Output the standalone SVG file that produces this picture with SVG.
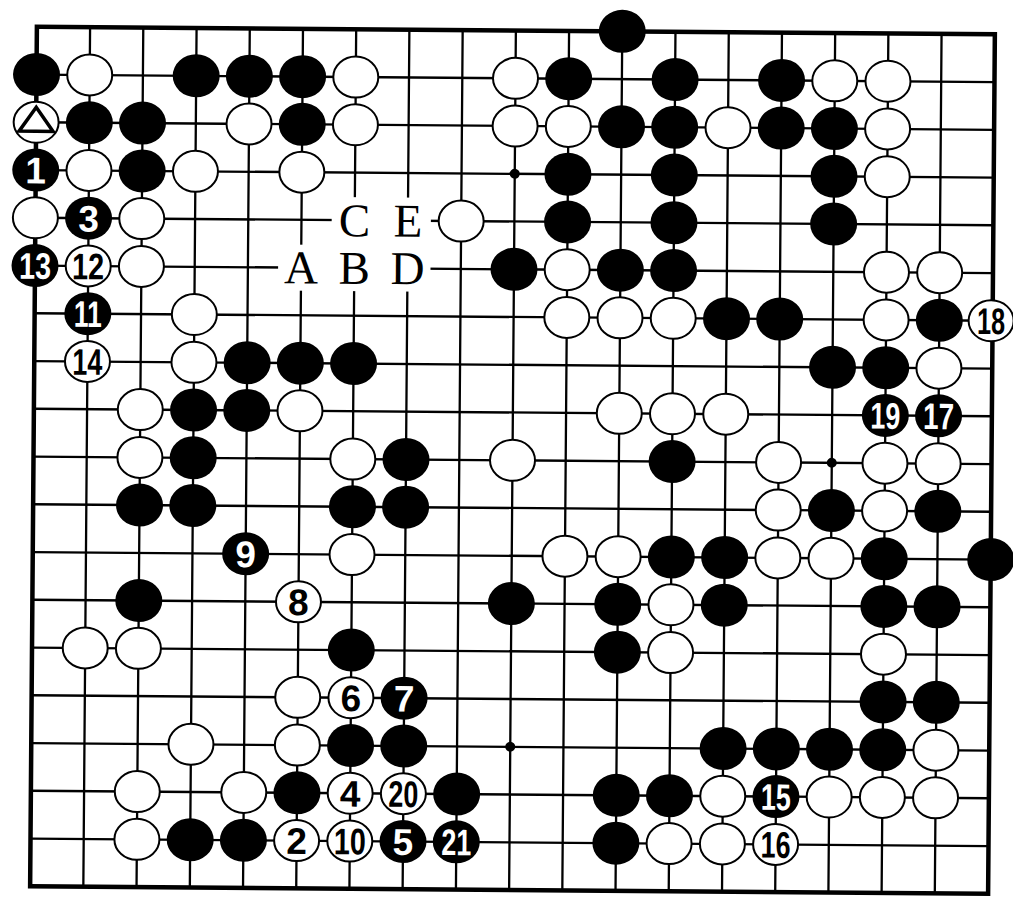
<svg xmlns="http://www.w3.org/2000/svg" xmlns:xlink="http://www.w3.org/1999/xlink" width="1013" height="899" viewBox="0 0 1013 899">
<style>
.gl{fill:none;stroke:#000;stroke-width:2.3}
.edge{fill:none;stroke:#000;stroke-width:4.5}
.nb{font-family:"Liberation Sans",Arial,sans-serif;font-weight:bold;font-size:37px;fill:#fff;text-anchor:middle}
.nw{font-family:"Liberation Sans",Arial,sans-serif;font-weight:bold;font-size:37px;fill:#000;text-anchor:middle}
.lt{font-family:"Liberation Serif","Times New Roman",serif;font-size:47px;fill:#000;text-anchor:middle}
</style>
<defs>
<ellipse id="bk" rx="23.5" ry="21.5" fill="#000"/>
<ellipse id="wt" rx="22.5" ry="20.5" fill="#fff" stroke="#000" stroke-width="2"/>
</defs>
<rect width="1013" height="899" fill="#fff"/>
<g transform="rotate(0.45 512 460)">
<g id="grid">
<path class="gl" d="M33.5 78.3H991.5M33.5 126H991.5M33.5 173.8H991.5M33.5 221.5H991.5M33.5 269.3H991.5M33.5 317H991.5M33.5 364.8H991.5M33.5 412.5H991.5M33.5 460.3H991.5M33.5 508H991.5M33.5 555.8H991.5M33.5 603.5H991.5M33.5 651.3H991.5M33.5 699H991.5M33.5 746.8H991.5M33.5 794.5H991.5M33.5 842.3H991.5"/>
<path class="gl" d="M86.7 30.5V890M139.9 30.5V890M193.2 30.5V890M246.4 30.5V890M299.6 30.5V890M352.8 30.5V890M406 30.5V890M459.3 30.5V890M512.5 30.5V890M565.7 30.5V890M618.9 30.5V890M672.1 30.5V890M725.4 30.5V890M778.6 30.5V890M831.8 30.5V890M885 30.5V890M938.2 30.5V890"/>
<rect class="edge" x="33.5" y="30.5" width="958" height="859.5"/>
<circle cx="512.5" cy="173.8" r="5"/>
<circle cx="831.8" cy="460.3" r="5"/>
<circle cx="512.5" cy="746.8" r="5"/>
</g>
<g id="black-stones">
<use href="#bk" x="618.9" y="30.5"/>
<use href="#bk" x="33.5" y="78.3"/><use href="#bk" x="193.2" y="78.3"/><use href="#bk" x="246.4" y="78.3"/><use href="#bk" x="299.6" y="78.3"/><use href="#bk" x="565.7" y="78.3"/><use href="#bk" x="672.1" y="78.3"/><use href="#bk" x="778.6" y="78.3"/>
<use href="#bk" x="86.7" y="126"/><use href="#bk" x="139.9" y="126"/><use href="#bk" x="299.6" y="126"/><use href="#bk" x="618.9" y="126"/><use href="#bk" x="672.1" y="126"/><use href="#bk" x="778.6" y="126"/><use href="#bk" x="831.8" y="126"/>
<use href="#bk" x="139.9" y="173.8"/><use href="#bk" x="565.7" y="173.8"/><use href="#bk" x="672.1" y="173.8"/><use href="#bk" x="831.8" y="173.8"/>
<use href="#bk" x="565.7" y="221.5"/><use href="#bk" x="672.1" y="221.5"/><use href="#bk" x="831.8" y="221.5"/>
<use href="#bk" x="512.5" y="269.3"/><use href="#bk" x="618.9" y="269.3"/><use href="#bk" x="672.1" y="269.3"/>
<use href="#bk" x="725.4" y="317"/><use href="#bk" x="778.6" y="317"/><use href="#bk" x="938.2" y="317"/>
<use href="#bk" x="246.4" y="364.8"/><use href="#bk" x="299.6" y="364.8"/><use href="#bk" x="352.8" y="364.8"/><use href="#bk" x="831.8" y="364.8"/><use href="#bk" x="885" y="364.8"/>
<use href="#bk" x="193.2" y="412.5"/><use href="#bk" x="246.4" y="412.5"/>
<use href="#bk" x="193.2" y="460.3"/><use href="#bk" x="406" y="460.3"/><use href="#bk" x="672.1" y="460.3"/>
<use href="#bk" x="139.9" y="508"/><use href="#bk" x="193.2" y="508"/><use href="#bk" x="352.8" y="508"/><use href="#bk" x="406" y="508"/><use href="#bk" x="831.8" y="508"/><use href="#bk" x="938.2" y="508"/>
<use href="#bk" x="672.1" y="555.8"/><use href="#bk" x="725.4" y="555.8"/><use href="#bk" x="885" y="555.8"/><use href="#bk" x="991.5" y="555.8"/>
<use href="#bk" x="139.9" y="603.5"/><use href="#bk" x="512.5" y="603.5"/><use href="#bk" x="618.9" y="603.5"/><use href="#bk" x="725.4" y="603.5"/><use href="#bk" x="885" y="603.5"/><use href="#bk" x="938.2" y="603.5"/>
<use href="#bk" x="352.8" y="651.3"/><use href="#bk" x="618.9" y="651.3"/>
<use href="#bk" x="885" y="699"/><use href="#bk" x="938.2" y="699"/>
<use href="#bk" x="352.8" y="746.8"/><use href="#bk" x="406" y="746.8"/><use href="#bk" x="725.4" y="746.8"/><use href="#bk" x="778.6" y="746.8"/><use href="#bk" x="831.8" y="746.8"/><use href="#bk" x="885" y="746.8"/>
<use href="#bk" x="299.6" y="794.5"/><use href="#bk" x="459.3" y="794.5"/><use href="#bk" x="618.9" y="794.5"/><use href="#bk" x="672.1" y="794.5"/>
<use href="#bk" x="193.2" y="842.3"/><use href="#bk" x="246.4" y="842.3"/><use href="#bk" x="618.9" y="842.3"/>
</g>
<g id="white-stones">
<use href="#wt" x="86.7" y="78.3"/><use href="#wt" x="352.8" y="78.3"/><use href="#wt" x="512.5" y="78.3"/><use href="#wt" x="831.8" y="78.3"/><use href="#wt" x="885" y="78.3"/>
<use href="#wt" x="246.4" y="126"/><use href="#wt" x="352.8" y="126"/><use href="#wt" x="512.5" y="126"/><use href="#wt" x="565.7" y="126"/><use href="#wt" x="725.4" y="126"/><use href="#wt" x="885" y="126"/>
<use href="#wt" x="86.7" y="173.8"/><use href="#wt" x="193.2" y="173.8"/><use href="#wt" x="299.6" y="173.8"/><use href="#wt" x="885" y="173.8"/>
<use href="#wt" x="33.5" y="221.5"/><use href="#wt" x="139.9" y="221.5"/><use href="#wt" x="459.3" y="221.5"/>
<use href="#wt" x="139.9" y="269.3"/><use href="#wt" x="565.7" y="269.3"/><use href="#wt" x="885" y="269.3"/><use href="#wt" x="938.2" y="269.3"/>
<use href="#wt" x="193.2" y="317"/><use href="#wt" x="565.7" y="317"/><use href="#wt" x="618.9" y="317"/><use href="#wt" x="672.1" y="317"/><use href="#wt" x="885" y="317"/>
<use href="#wt" x="193.2" y="364.8"/><use href="#wt" x="938.2" y="364.8"/>
<use href="#wt" x="139.9" y="412.5"/><use href="#wt" x="299.6" y="412.5"/><use href="#wt" x="618.9" y="412.5"/><use href="#wt" x="672.1" y="412.5"/><use href="#wt" x="725.4" y="412.5"/>
<use href="#wt" x="139.9" y="460.3"/><use href="#wt" x="352.8" y="460.3"/><use href="#wt" x="512.5" y="460.3"/><use href="#wt" x="778.6" y="460.3"/><use href="#wt" x="885" y="460.3"/><use href="#wt" x="938.2" y="460.3"/>
<use href="#wt" x="778.6" y="508"/><use href="#wt" x="885" y="508"/>
<use href="#wt" x="352.8" y="555.8"/><use href="#wt" x="565.7" y="555.8"/><use href="#wt" x="618.9" y="555.8"/><use href="#wt" x="778.6" y="555.8"/><use href="#wt" x="831.8" y="555.8"/>
<use href="#wt" x="672.1" y="603.5"/>
<use href="#wt" x="86.7" y="651.3"/><use href="#wt" x="139.9" y="651.3"/><use href="#wt" x="672.1" y="651.3"/><use href="#wt" x="885" y="651.3"/>
<use href="#wt" x="299.6" y="699"/>
<use href="#wt" x="193.2" y="746.8"/><use href="#wt" x="299.6" y="746.8"/><use href="#wt" x="938.2" y="746.8"/>
<use href="#wt" x="139.9" y="794.5"/><use href="#wt" x="246.4" y="794.5"/><use href="#wt" x="725.4" y="794.5"/><use href="#wt" x="831.8" y="794.5"/><use href="#wt" x="885" y="794.5"/><use href="#wt" x="938.2" y="794.5"/>
<use href="#wt" x="139.9" y="842.3"/><use href="#wt" x="672.1" y="842.3"/><use href="#wt" x="725.4" y="842.3"/>
</g>
<g id="marked-stone">
<use href="#wt" x="33.5" y="126"/>
<polygon points="33.5,111 16.5,135 50.5,135" fill="none" stroke="#000" stroke-width="3.5"/>
</g>
<g id="black-moves">
<g id="move-1"><use href="#bk" x="33.5" y="173.8"/><text class="nb" x="33.5" y="187.1">1</text></g>
<g id="move-3"><use href="#bk" x="86.7" y="221.5"/><text class="nb" x="86.7" y="234.8">3</text></g>
<g id="move-5"><use href="#bk" x="406" y="842.3"/><text class="nb" x="406" y="855.6">5</text></g>
<g id="move-7"><use href="#bk" x="406" y="699"/><text class="nb" x="406" y="712.3">7</text></g>
<g id="move-9"><use href="#bk" x="246.4" y="555.8"/><text class="nb" x="246.4" y="569.1">9</text></g>
<g id="move-11"><use href="#bk" x="86.7" y="317"/><text class="nb" x="86.7" y="330.3" textLength="28" lengthAdjust="spacingAndGlyphs">11</text></g>
<g id="move-13"><use href="#bk" x="33.5" y="269.3"/><text class="nb" x="33.5" y="282.6" textLength="32" lengthAdjust="spacingAndGlyphs">13</text></g>
<g id="move-15"><use href="#bk" x="778.6" y="794.5"/><text class="nb" x="778.6" y="807.8" textLength="30" lengthAdjust="spacingAndGlyphs">15</text></g>
<g id="move-17"><use href="#bk" x="938.2" y="412.5"/><text class="nb" x="938.2" y="425.8" textLength="31" lengthAdjust="spacingAndGlyphs">17</text></g>
<g id="move-19"><use href="#bk" x="885" y="412.5"/><text class="nb" x="885" y="425.8" textLength="30" lengthAdjust="spacingAndGlyphs">19</text></g>
<g id="move-21"><use href="#bk" x="459.3" y="842.3"/><text class="nb" x="459.3" y="855.6" textLength="30" lengthAdjust="spacingAndGlyphs">21</text></g>
</g>
<g id="white-moves">
<g id="move-2"><use href="#wt" x="299.6" y="842.3"/><text class="nw" x="299.6" y="855.6">2</text></g>
<g id="move-4"><use href="#wt" x="352.8" y="794.5"/><text class="nw" x="352.8" y="807.8">4</text></g>
<g id="move-6"><use href="#wt" x="352.8" y="699"/><text class="nw" x="352.8" y="712.3">6</text></g>
<g id="move-8"><use href="#wt" x="299.6" y="603.5"/><text class="nw" x="299.6" y="616.8">8</text></g>
<g id="move-10"><use href="#wt" x="352.8" y="842.3"/><text class="nw" x="352.8" y="855.6" textLength="32" lengthAdjust="spacingAndGlyphs">10</text></g>
<g id="move-12"><use href="#wt" x="86.7" y="269.3"/><text class="nw" x="86.7" y="282.6" textLength="32" lengthAdjust="spacingAndGlyphs">12</text></g>
<g id="move-14"><use href="#wt" x="86.7" y="364.8"/><text class="nw" x="86.7" y="378.1" textLength="30" lengthAdjust="spacingAndGlyphs">14</text></g>
<g id="move-16"><use href="#wt" x="778.6" y="842.3"/><text class="nw" x="778.6" y="855.6" textLength="30" lengthAdjust="spacingAndGlyphs">16</text></g>
<g id="move-18"><use href="#wt" x="990" y="317"/><text class="nw" x="990" y="330.3" textLength="28" lengthAdjust="spacingAndGlyphs">18</text></g>
<g id="move-20"><use href="#wt" x="406" y="794.5"/><text class="nw" x="406" y="807.8" textLength="30" lengthAdjust="spacingAndGlyphs">20</text></g>
</g>
<g id="letters">
<path d="M276.6 246.3H429V292.3H276.6ZM329.8 198.5H429V270H329.8Z" fill="#fff"/>
<text class="lt" x="299.6" y="285">A</text>
<text class="lt" x="352.8" y="285">B</text>
<text class="lt" x="406" y="285">D</text>
<text class="lt" x="352.8" y="237.5">C</text>
<text class="lt" x="406" y="237.5">E</text>
</g>
</g>
</svg>
